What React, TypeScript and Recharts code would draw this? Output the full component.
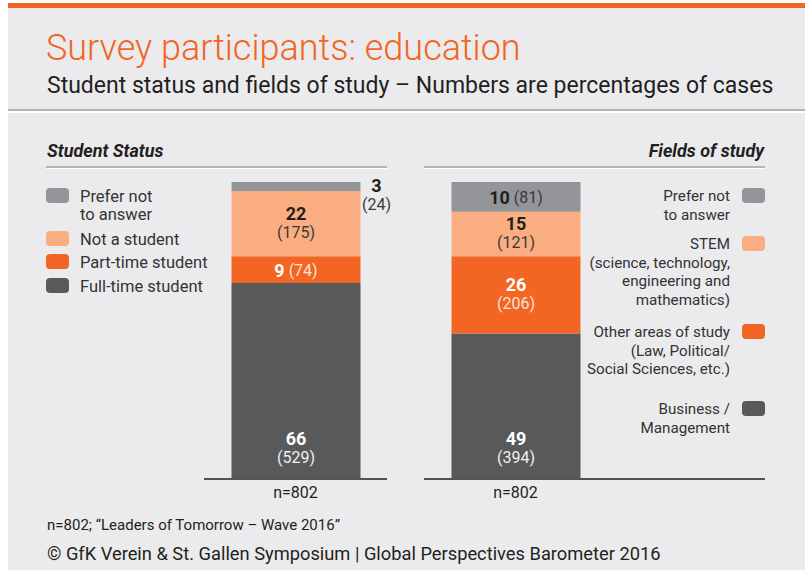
import { BarChart, Bar, XAxis, YAxis, LabelList } from "recharts";

const panels = ["Student Status", "Fields of study"];
const sampleSizes = [802, 802];

// bottom -> top: full-time, part-time, not a student, prefer not to answer
const statusValues = [66, 9, 22, 3];
const statusCounts = [529, 74, 175, 24];
const statusLegend = [
  ["Prefer not", "to answer"],
  ["Not a student"],
  ["Part-time student"],
  ["Full-time student"],
];

// bottom -> top: business, other areas, STEM, prefer not to answer
const fieldValues = [49, 26, 15, 10];
const fieldCounts = [394, 206, 121, 81];
const fieldLegend = [
  ["Prefer not", "to answer"],
  ["STEM", "(science, technology,", "engineering and", "mathematics)"],
  ["Other areas of study", "(Law, Political/", "Social Sciences, etc.)"],
  ["Business /", "Management"],
];

const seriesKeys = ["s0", "s1", "s2", "s3"];
const colors = ["#58595b", "#f26522", "#f9ad81", "#939598"];
const textOn = ["#ffffff", "#ffffff", "#231f20", "#231f20"];
const countOn = ["#f0f0f0", "#fde3d3", "#3a3a3a", "#3a3a3a"];

const FONT = "Roboto, 'Open Sans', sans-serif";

const data = panels.map((name, i) => {
  const vals = i === 0 ? statusValues : fieldValues;
  const row: Record<string, string | number> = { name };
  seriesKeys.forEach((k, j) => (row[k] = vals[j]));
  return row;
});
const countsFor = (i: number) => (i === 0 ? statusCounts : fieldCounts);

// how each label sits: two lines centred, one line, near bar bottom, outside right
const labelMode: string[][] = [
  ["bottom", "bottom"],
  ["inline", "stack"],
  ["stack", "stack"],
  ["outside", "inline"],
];

const makeLabel = (s: number) => (props: any) => {
  const { x, y, width, height, value, index } = props;
  const count = countsFor(index)[s];
  const mode = labelMode[s][index];
  const cx = x + width / 2;
  const fill = textOn[s];
  const cfill = countOn[s];
  if (mode === "inline") {
    return (
      <text x={cx} y={y + height / 2} textAnchor="middle" dominantBaseline="central" fontFamily={FONT}>
        <tspan fontSize={18} fontWeight={700} fill={fill}>{value}</tspan>
        <tspan fontSize={16} fill={cfill}>{` (${count})`}</tspan>
      </text>
    );
  }
  let c1 = y + height / 2 - 10;
  let ax = cx;
  let f1 = fill;
  let f2 = cfill;
  if (mode === "bottom") c1 = y + height - 41;
  if (mode === "outside") {
    ax = x + width + 16;
    c1 = y + 3;
    f1 = "#231f20";
    f2 = "#3a3a3a";
  }
  return (
    <g fontFamily={FONT}>
      <text x={ax} y={c1} textAnchor="middle" dominantBaseline="central" fontSize={18} fontWeight={700} fill={f1}>
        {value}
      </text>
      <text x={ax} y={c1 + 19} textAnchor="middle" dominantBaseline="central" fontSize={16} fill={f2}>
        {`(${count})`}
      </text>
    </g>
  );
};

const legendTop = [196, 239, 262, 286];
const legendTopRight = [196, 244, 332, 409];
const legendColorIdx = [3, 2, 1, 0];

function Background() {
  return (
    <svg width={805} height={575} style={{ position: "absolute", left: 0, top: 0 }} fontFamily={FONT}>
      <rect x={8} y={8} width={797} height={562} fill="#ebebed" />
      <rect x={8} y={3} width={797} height={5} fill="#f26522" />
      <rect x={8} y={109} width={797} height={2} fill="#b4b4b6" />
      <rect x={8} y={111} width={797} height={2} fill="#ffffff" />
      <text x={46} y={60} fontSize={36} fontWeight={300} fill="#f26522">
        Survey participants: education
      </text>
      <text x={47} y={93} fontSize={23} fill="#231f20">
        Student status and fields of study – Numbers are percentages of cases
      </text>

      <text x={47} y={157} fontSize={18} fontWeight={700} fontStyle="italic" fill="#231f20">
        {panels[0]}
      </text>
      <text x={764} y={157} fontSize={18} fontWeight={700} fontStyle="italic" fill="#231f20" textAnchor="end">
        {panels[1]}
      </text>
      <rect x={46} y={166} width={341} height={2} fill="#b4b4b6" />
      <rect x={46} y={168} width={341} height={1} fill="#ffffff" />
      <rect x={424} y={166} width={341} height={2} fill="#b4b4b6" />
      <rect x={424} y={168} width={341} height={1} fill="#ffffff" />

      <line x1={204} x2={387} y1={479} y2={479} stroke="#231f20" strokeWidth={1.5} />
      <line x1={424} x2={765} y1={479} y2={479} stroke="#231f20" strokeWidth={1.5} />

      {statusLegend.map((lines, i) => (
        <g key={"l" + i}>
          <rect x={46} y={legendTop[i] - 8} width={23} height={15} rx={4} fill={colors[legendColorIdx[i]]} />
          {lines.map((t, j) => (
            <text key={j} x={80} y={legendTop[i] + j * 18} dominantBaseline="central" fontSize={16.5} fill="#333">
              {t}
            </text>
          ))}
        </g>
      ))}
      {fieldLegend.map((lines, i) => (
        <g key={"r" + i}>
          <rect x={742} y={legendTopRight[i] - 8} width={23} height={15} rx={4} fill={colors[legendColorIdx[i]]} />
          {lines.map((t, j) => (
            <text key={j} x={730} y={legendTopRight[i] + j * 18.5} dominantBaseline="central" textAnchor="end" fontSize={15.2} fill="#333">
              {t}
            </text>
          ))}
        </g>
      ))}

      <text x={47} y={530} fontSize={15} fill="#231f20">
        n=802; “Leaders of Tomorrow – Wave 2016”
      </text>
      <text x={47} y={560} fontSize={18.3} fill="#231f20">
        © GfK Verein &amp; St. Gallen Symposium | Global Perspectives Barometer 2016
      </text>
    </svg>
  );
}

export default function App() {
  return (
    <div style={{ position: "absolute", left: 0, top: 0, width: 805, height: 575, background: "#fff" }}>
      <Background />
      <div style={{ position: "absolute", left: 0, top: 0 }}>
        <BarChart
          width={805}
          height={575}
          data={data}
          margin={{ top: 182, right: 179.5, bottom: 66, left: 185.5 }}
          barSize={129}
        >
          <XAxis
            dataKey="name"
            height={30}
            axisLine={false}
            tickLine={false}
            tickFormatter={(_v: any, i: number) => `n=${sampleSizes[i]}`}
            tick={{ fontSize: 16, fill: "#231f20", fontFamily: FONT }}
          />
          <YAxis hide domain={[0, 100]} />
          {seriesKeys.map((k, s) => (
            <Bar key={k} dataKey={k} stackId="a" fill={colors[s]} isAnimationActive={false}>
              <LabelList dataKey={k} content={makeLabel(s)} />
            </Bar>
          ))}
        </BarChart>
      </div>
    </div>
  );
}
